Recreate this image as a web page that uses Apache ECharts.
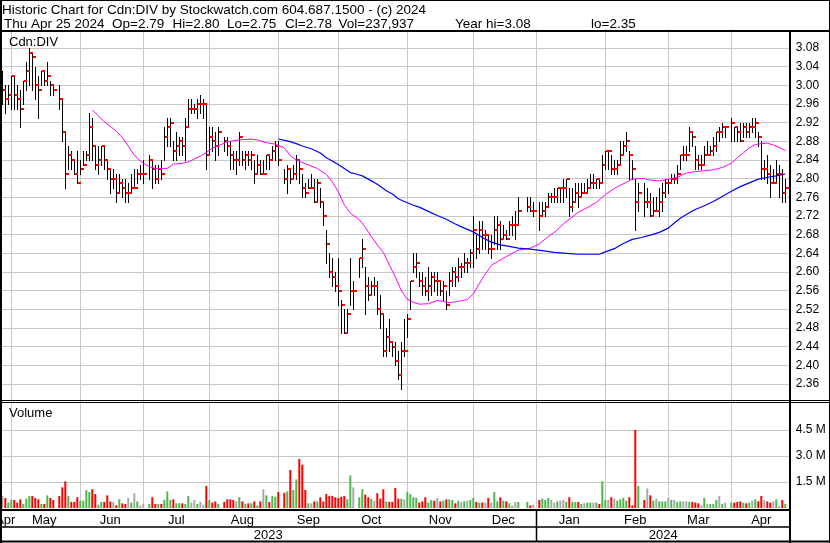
<!DOCTYPE html>
<html><head><meta charset="utf-8">
<script src="https://cdn.jsdelivr.net/npm/echarts@6/dist/echarts.min.js"></script>
<style>html,body{margin:0;padding:0;background:#fff;overflow:hidden}#c{width:830px;height:543px}</style>
</head><body><div id="c"></div>
<script>
// ---------- DATA ----------
const symbol = 'Cdn:DIV';
const titleLine1 = 'Historic Chart for Cdn:DIV by Stockwatch.com 604.687.1500 - (c) 2024';
const titleLine2 = ['Thu Apr 25 2024', 'Op=2.79', 'Hi=2.80', 'Lo=2.75', 'Cl=2.78', 'Vol=237,937', 'Year hi=3.08', 'lo=2.35'];
const firstDay = [2023, 3, 26];   // Apr 26 2023 (first weekday slot)
const slotCount = 263;            // weekday slots up to Apr 26 2024
const monthNames = ['Jan','Feb','Mar','Apr','May','Jun','Jul','Aug','Sep','Oct','Nov','Dec'];

const high = [
3.03,3.00,3.00,3.02,3.02,3.00,2.99,3.01,3.05,3.08,
3.07,3.04,3.02,3.03,3.03,3.05,3.01,3.00,null,3.00,
2.97,2.90,2.87,2.86,2.84,2.86,2.84,2.86,2.86,2.94,
2.93,2.87,2.87,2.87,2.87,2.84,2.82,2.82,2.81,2.81,
2.80,2.80,2.79,2.81,2.82,2.82,2.83,2.84,null,2.85,
2.84,2.83,2.83,2.84,2.91,2.93,2.93,2.88,2.90,2.89,
2.89,2.93,2.97,2.97,2.96,2.97,2.98,2.97,2.96,2.91,
2.91,2.90,2.91,null,2.89,2.89,2.88,2.86,2.86,2.90,
2.86,2.86,2.86,2.86,2.84,2.85,2.84,2.84,2.85,2.85,
2.87,2.88,2.88,null,2.82,2.83,2.82,2.83,2.85,2.84,
2.81,2.79,2.80,2.81,2.80,2.80,2.78,2.75,2.69,2.64,
2.63,2.60,2.63,2.54,2.52,2.52,2.63,2.58,null,2.63,
2.67,2.61,2.59,2.58,2.59,2.58,2.55,2.51,2.48,2.50,
2.45,2.45,2.43,2.45,2.50,2.51,2.58,2.64,2.64,2.60,
2.60,2.59,2.61,2.60,2.60,2.60,2.58,2.58,2.56,2.60,
2.61,2.61,2.63,2.62,2.64,2.63,2.65,2.72,2.68,2.71,
2.71,2.69,2.68,2.68,2.72,2.72,2.71,2.70,2.69,2.71,
2.72,2.73,2.76,null,null,2.76,2.76,2.75,null,2.75,
2.75,2.75,2.77,2.77,2.78,2.78,2.78,2.80,2.80,2.78,
2.78,2.79,2.79,2.79,2.79,2.80,2.81,2.81,2.80,2.80,
2.85,2.86,2.86,2.85,2.84,2.84,2.88,2.88,2.90,2.86,
2.84,2.80,2.79,null,2.79,2.78,2.77,2.76,2.76,2.78,
2.79,2.80,2.80,2.81,2.81,2.83,2.85,2.87,2.87,2.91,
2.90,2.87,2.85,2.85,2.87,2.88,2.87,2.89,2.90,2.91,
2.92,2.91,null,2.93,2.91,2.91,2.92,2.92,2.92,2.92,
2.93,2.93,2.90,2.88,2.84,2.85,2.83,2.82,2.84,2.83,
2.82,2.80,null];

const low = [
2.96,2.94,2.96,2.95,2.95,2.95,2.91,2.96,2.99,3.00,
2.99,2.97,2.93,3.00,3.00,3.00,2.98,2.98,null,2.95,
2.88,2.78,2.82,2.82,2.81,2.79,2.81,2.83,2.84,2.84,
2.84,2.82,2.81,2.83,2.82,2.80,2.77,2.78,2.75,2.77,
2.76,2.75,2.75,2.77,2.78,2.79,2.80,2.79,null,2.80,
2.78,2.79,2.79,2.80,2.84,2.87,2.87,2.84,2.84,2.85,
2.85,2.84,2.91,2.94,2.94,2.93,2.94,2.93,2.82,2.85,
2.86,2.84,2.85,null,2.86,2.85,2.82,2.82,2.81,2.83,
2.83,2.82,2.83,2.82,2.79,2.81,2.81,2.81,2.82,2.82,
2.84,2.84,2.83,null,2.79,2.77,2.79,2.80,2.80,2.79,
2.76,2.76,2.78,2.78,2.75,2.75,2.74,2.70,2.62,2.59,
2.57,2.56,2.53,2.47,2.47,2.47,2.53,2.52,null,2.59,
2.61,2.51,2.54,2.55,2.55,2.51,2.48,2.42,2.42,2.43,
2.42,2.40,2.37,2.35,2.42,2.46,2.52,2.60,2.59,2.57,
2.55,2.55,2.54,2.55,2.56,2.55,2.55,2.54,2.52,2.55,
2.57,2.57,2.58,2.59,2.60,2.60,2.61,2.61,2.63,2.64,
2.65,2.65,2.64,2.63,2.66,2.65,2.65,2.67,2.67,2.68,
2.68,2.67,2.70,null,null,2.73,2.73,2.72,null,2.69,
2.72,2.72,2.74,2.75,2.75,2.75,2.75,2.75,2.76,2.72,
2.73,2.75,2.74,2.76,2.77,2.77,2.78,2.78,2.78,2.78,
2.79,2.82,2.82,2.81,2.81,2.81,2.83,2.85,2.86,2.80,
2.80,2.69,2.73,null,2.72,2.74,2.72,2.72,2.73,2.72,
2.73,2.76,2.77,2.79,2.79,2.79,2.82,2.84,2.84,2.86,
2.87,2.82,2.82,2.82,2.83,2.85,2.85,2.85,2.86,2.88,
2.89,2.89,null,2.88,2.88,2.88,2.88,2.89,2.89,2.89,
2.90,2.89,2.87,2.80,2.80,2.79,2.76,2.79,2.79,2.76,
2.75,2.75,null];

const close = [
2.99,2.97,2.98,3.02,2.98,2.97,2.95,3.01,3.03,3.07,
3.06,3.00,2.99,3.03,3.01,3.02,3.00,2.99,null,2.97,
2.90,2.81,2.85,2.84,2.81,2.79,2.82,2.83,2.85,2.91,
2.87,2.83,2.84,2.87,2.84,2.82,2.80,2.80,2.77,2.79,
2.78,2.77,2.77,2.78,2.78,2.81,2.81,2.81,null,2.84,
2.82,2.80,2.82,2.81,2.89,2.91,2.92,2.86,2.87,2.88,
2.87,2.91,2.95,2.95,2.95,2.96,2.96,2.96,2.85,2.89,
2.88,2.87,2.90,null,2.88,2.87,2.85,2.84,2.84,2.89,
2.84,2.85,2.84,2.85,2.81,2.83,2.81,2.81,2.85,2.84,
2.86,2.87,2.84,null,2.80,2.82,2.80,2.81,2.84,2.82,
2.78,2.77,2.78,2.78,2.75,2.79,2.75,2.72,2.66,2.60,
2.59,2.57,2.56,2.53,2.47,2.51,2.56,2.56,null,2.63,
2.65,2.57,2.55,2.57,2.57,2.52,2.51,2.43,2.46,2.45,
2.44,2.41,2.38,2.43,2.43,2.50,2.58,2.61,2.62,2.58,
2.57,2.56,2.57,2.59,2.58,2.58,2.56,2.57,2.53,2.58,
2.60,2.59,2.61,2.61,2.62,2.62,2.64,2.69,2.65,2.69,
2.68,2.68,2.65,2.65,2.69,2.70,2.67,2.68,2.67,2.70,
2.70,2.70,2.73,null,null,2.74,2.73,2.73,null,2.72,
2.73,2.74,2.76,2.76,2.76,2.78,2.78,2.78,2.80,2.74,
2.75,2.77,2.76,2.77,2.77,2.78,2.79,2.79,2.80,2.79,
2.83,2.86,2.86,2.82,2.82,2.83,2.85,2.87,2.88,2.85,
2.82,2.75,2.77,null,2.75,2.75,2.72,2.73,2.73,2.75,
2.77,2.79,2.79,2.80,2.80,2.81,2.85,2.85,2.85,2.90,
2.89,2.84,2.83,2.83,2.85,2.85,2.86,2.87,2.90,2.90,
2.91,2.91,null,2.92,2.91,2.90,2.88,2.91,2.90,2.91,
2.91,2.92,2.89,2.82,2.82,2.81,2.79,2.79,2.81,2.81,
2.77,2.78,null];

// volume in millions of shares
const volumeM = [
0.69,0.58,0.31,0.46,0.46,0.31,0.50,0.23,0.54,0.69,
0.69,0.58,0.50,0.23,0.23,0.73,0.58,0.46,null,0.69,
1.19,1.54,0.69,0.35,0.35,0.62,0.42,0.42,1.04,0.92,
1.08,0.81,0.19,0.35,0.35,0.73,0.38,0.35,0.15,0.50,
0.27,0.23,0.58,0.31,0.85,0.38,0.15,0.23,null,0.23,
0.62,0.23,0.23,0.23,0.46,0.96,0.46,0.50,0.27,0.27,
0.27,0.23,0.69,0.31,0.46,0.23,0.35,0.19,1.27,0.46,
0.31,0.38,0.23,null,0.35,0.50,0.50,0.46,0.38,0.62,
0.38,0.23,0.27,0.27,0.38,0.15,0.38,1.08,0.73,0.35,
0.69,0.65,0.92,null,0.88,0.96,2.19,1.04,1.65,2.83,
2.50,1.04,0.27,0.27,0.38,0.38,0.62,0.38,0.81,0.69,
0.69,0.62,0.58,0.65,0.69,0.50,1.88,1.19,null,0.62,
1.08,0.77,0.62,0.54,0.42,0.85,0.54,1.08,0.38,0.35,
0.35,1.15,0.54,0.54,0.50,0.92,0.81,0.62,0.58,0.31,
0.38,0.62,0.31,0.46,0.42,0.58,0.38,0.42,0.50,0.50,
0.46,0.27,0.42,0.35,0.38,0.42,0.46,0.58,0.35,0.31,
0.31,0.31,0.58,0.31,0.92,0.38,0.62,0.42,0.38,0.27,
0.15,0.35,0.35,null,null,0.35,0.15,0.19,null,0.46,
0.54,0.46,0.58,0.46,0.31,0.38,0.42,0.46,0.35,0.62,
0.35,0.35,0.35,0.23,0.27,0.31,0.31,0.31,0.31,0.23,
1.54,0.46,0.46,0.62,0.54,0.42,0.50,0.58,0.42,0.62,
0.15,4.50,1.27,null,0.46,1.13,0.73,0.42,0.54,0.38,
0.38,0.38,0.58,0.46,0.46,0.35,0.38,0.38,0.38,0.35,
0.35,0.31,0.27,0.15,0.58,0.23,0.23,0.23,0.46,0.69,
0.23,0.31,null,0.31,0.31,0.35,0.38,0.31,0.27,0.31,
0.42,0.50,0.38,0.69,0.46,0.38,0.31,0.38,0.50,0.12,
0.46,0.24,null];

// moving averages: [day slot, value]
const maPink = [
[30,2.947],[32,2.935],[34,2.922],[36,2.912],[38,2.902],[40,2.888],[42,2.870],[44,2.850],[46,2.838],[47,2.833],
[49,2.826],[51,2.822],[55,2.822],[57,2.831],[60,2.833],[62,2.836],[64,2.842],[66,2.848],[70,2.865],[75,2.879],
[79,2.883],[83,2.885],[85,2.883],[88,2.877],[91,2.874],[94,2.866],[96,2.849],[98,2.840],[101,2.832],[105,2.822],
[108,2.809],[110,2.793],[112,2.772],[114,2.744],[116,2.726],[119,2.712],[121,2.696],[123,2.676],[125,2.658],[127,2.642],
[129,2.615],[131,2.590],[133,2.560],[135,2.542],[137,2.535],[139,2.531],[142,2.532],[145,2.539],[147,2.537],[149,2.534],
[152,2.537],[155,2.541],[157,2.553],[159,2.575],[161,2.596],[163,2.614],[165,2.622],[168,2.633],[170,2.640],[172,2.647],
[176,2.651],[179,2.660],[182,2.676],[185,2.690],[187,2.703],[189,2.713],[192,2.728],[195,2.738],[198,2.749],[201,2.766],
[204,2.779],[206,2.786],[208,2.792],[210,2.799],[212,2.800],[214,2.800],[216,2.797],[219,2.795],[222,2.799],[225,2.803],
[228,2.812],[231,2.815],[234,2.817],[237,2.819],[240,2.824],[243,2.833],[245,2.845],[247,2.855],[249,2.866],[251,2.873],
[253,2.875],[255,2.876],[257,2.872],[259,2.867],[261,2.860]];

const maBlue = [
[92,2.885],[95,2.881],[98,2.875],[100,2.870],[103,2.864],[106,2.855],[108,2.845],[110,2.838],[113,2.826],[116,2.813],
[118,2.810],[120,2.806],[122,2.799],[125,2.788],[128,2.774],[130,2.767],[132,2.757],[134,2.751],[137,2.743],[139,2.739],
[142,2.730],[145,2.721],[148,2.713],[151,2.703],[154,2.694],[157,2.686],[160,2.674],[163,2.664],[166,2.658],[169,2.655],
[172,2.651],[176,2.649],[180,2.646],[184,2.642],[188,2.640],[192,2.638],[196,2.638],[199,2.638],[201,2.643],[204,2.650],
[207,2.661],[210,2.670],[213,2.674],[216,2.679],[219,2.685],[222,2.694],[224,2.705],[226,2.715],[229,2.727],[231,2.734],
[234,2.742],[237,2.751],[240,2.762],[243,2.773],[246,2.783],[249,2.791],[252,2.799],[255,2.803],[258,2.806],[261,2.810]];

// ---------- BUILD ----------
const dates = [];
(function(){
  const d = new Date(Date.UTC(firstDay[0], firstDay[1], firstDay[2]));
  while (dates.length < slotCount) {
    const wd = d.getUTCDay();
    if (wd !== 0 && wd !== 6) dates.push(d.toISOString().slice(0,10));
    d.setUTCDate(d.getUTCDate() + 1);
  }
})();
const gridIdx = [];
for (let i = 1; i < dates.length; i++) {
  if (dates[i].slice(5,7) !== dates[i-1].slice(5,7)) {
    gridIdx.push(+dates[i].slice(8,10) === 1 ? i : i - 1);
  }
}
const bounds = [-1].concat(gridIdx, [slotCount]);
const labelIdx = [];
for (let k = 0; k < bounds.length - 1; k++) labelIdx.push(Math.floor((bounds[k] + bounds[k+1]) / 2));
const gridSet = new Set(gridIdx);
const yearStartIdx = dates.findIndex(d => d.slice(0,4) === '2024');

const ohlc = dates.map((d, i) => [i, high[i], low[i], close[i]]);
let prevC = null;
const volData = volumeM.map((v, i) => {
  let col = '#a8a8a8';
  if (close[i] != null) {
    if (prevC != null) col = close[i] > prevC ? '#4cb84c' : (close[i] < prevC ? '#ff0000' : '#a8a8a8');
    prevC = close[i];
  }
  return { value: v, itemStyle: { color: col } };
});

const FONT = '"Liberation Sans", Arial, sans-serif';
const chart = echarts.init(document.getElementById('c'), null, { renderer: 'canvas' });
const gridLineStyle = { color: '#c8c8c8', width: 1 };

function hlcItem(part) {
  return function (params, api) {
    const hi = api.value(1), lo = api.value(2), cl = api.value(3), i = api.value(0);
    if (hi == null || isNaN(hi)) return null;
    const pH = api.coord([i, hi]), pL = api.coord([i, lo]), pC = api.coord([i, cl]);
    const x = Math.floor(pH[0]);
    const yH = Math.round(pH[1]), yL = Math.round(pL[1]), yC = Math.round(pC[1]);
    if (part === 'bar') return { type: 'rect', shape: { x: x, y: yH, width: 1, height: Math.max(1, yL - yH + 1) }, style: { fill: '#000' } };
    return { type: 'rect', shape: { x: x + 1, y: yC - 1, width: 3, height: 2 }, style: { fill: '#ff0000' } };
  };
}

chart.setOption({
  animation: false,
  backgroundColor: '#ffffff',
  grid: [
    { left: 0.8, width: 789, top: 29.333, height: 373.333 },
    { left: 0.8, width: 789, top: 404, height: 104 }
  ],
  xAxis: [
    { type: 'category', gridIndex: 0, data: dates, boundaryGap: true,
      axisLine: { show: false }, axisTick: { show: false }, axisLabel: { show: false },
      splitLine: { show: true, alignWithLabel: true, interval: (i) => gridSet.has(i), lineStyle: gridLineStyle } },
    { type: 'category', gridIndex: 1, data: dates, boundaryGap: true,
      axisLine: { show: false }, axisTick: { show: false }, axisLabel: { show: false },
      splitLine: { show: true, alignWithLabel: true, interval: (i) => gridSet.has(i), lineStyle: gridLineStyle } }
  ],
  yAxis: [
    { type: 'value', gridIndex: 0, position: 'right', min: 2.32, max: 3.12, interval: 0.04,
      axisLine: { show: false }, axisTick: { show: false },
      axisLabel: { margin: 6, color: '#000', fontFamily: FONT, fontSize: 12, showMinLabel: false, showMaxLabel: false,
        formatter: (v) => v.toFixed(2) },
      splitLine: { show: true, showMinLine: false, showMaxLine: false, lineStyle: gridLineStyle } },
    { type: 'value', gridIndex: 1, position: 'right', min: 0, max: 6, interval: 1.5,
      axisLine: { show: false }, axisTick: { show: false },
      axisLabel: { margin: 6, color: '#000', fontFamily: FONT, fontSize: 12, showMinLabel: false, showMaxLabel: false,
        formatter: (v) => v.toFixed(1) + ' M' },
      splitLine: { show: true, showMinLine: false, showMaxLine: false, lineStyle: gridLineStyle } }
  ],
  series: [
    { type: 'custom', xAxisIndex: 0, yAxisIndex: 0, data: ohlc, z: 3,
      encode: { x: 0, y: [1, 2, 3] }, renderItem: hlcItem('bar') },
    { type: 'custom', xAxisIndex: 0, yAxisIndex: 0, data: ohlc, z: 4,
      encode: { x: 0, y: [1, 2, 3] }, renderItem: hlcItem('tick') },
    { type: 'line', xAxisIndex: 0, yAxisIndex: 0, data: maPink, showSymbol: false, symbol: 'none', z: 5,
      lineStyle: { color: '#ff00ff', width: 1 }, connectNulls: true },
    { type: 'line', xAxisIndex: 0, yAxisIndex: 0, data: maBlue, showSymbol: false, symbol: 'none', z: 5,
      lineStyle: { color: '#0000ff', width: 1.2 }, connectNulls: true },
    { type: 'bar', xAxisIndex: 1, yAxisIndex: 1, data: volData, barWidth: 2, z: 3 }
  ]
});

// frame + texts
const px = (i) => chart.convertToPixel({ xAxisIndex: 1 }, i);
const xYear = px(yearStartIdx);
const xRight = 790;
const L = (x1, y1, x2, y2, w) => ({ type: 'line', silent: true, z: 50, shape: { x1, y1, x2, y2 }, style: { stroke: '#000', lineWidth: w } });
const T = (text, x, y, size, align) => ({ type: 'text', silent: true, z: 60, x, y,
  style: { text, fill: '#000', font: size + 'px ' + FONT, textAlign: align || 'left', textVerticalAlign: 'middle' } });
const line2X = [4, 112, 172.5, 227, 285, 338.5, 455, 591];
const graphics = [
  L(0.5, 0.5, 829.5, 0.5, 1),
  L(0, 31, 830, 31, 2),
  L(1, 0, 1, 543, 2),
  L(829.5, 0, 829.5, 543, 1),
  L(xRight, 31, xRight, 543, 2),
  L(0, 400.5, 830, 400.5, 1),
  L(0, 402.5, 830, 402.5, 1),
  L(0, 510, xRight, 510, 2),
  L(0, 527, xRight, 527, 1.5),
  L(0, 541.5, 830, 541.5, 2),
  L(Math.round(xYear) + 0.5, 510, Math.round(xYear) + 0.5, 542, 1.5),
  T(titleLine1, 2, 10, 13.5),
  T(symbol, 9, 42, 13),
  T('Volume', 9, 413, 13),
  T('2023', xYear / 2, 535, 13, 'center'),
  T('2024', (xYear + xRight) / 2, 535, 13, 'center')
];
titleLine2.forEach((s, k) => graphics.push(T(s, line2X[k], 24, 13.5)));
labelIdx.forEach((i, k) => {
  const m = dates[Math.max(0, Math.min(slotCount - 1, i))].slice(5, 7);
  graphics.push(T(monthNames[+m - 1], px(i), 520, 13, 'center'));
});
chart.setOption({ graphic: graphics });
</script>
</body></html>
